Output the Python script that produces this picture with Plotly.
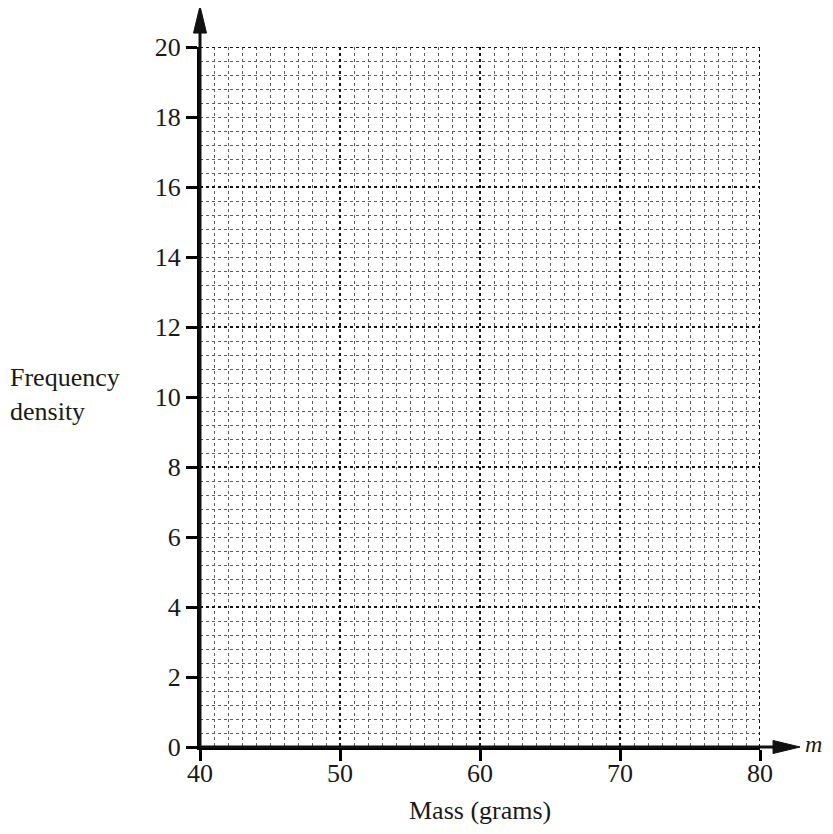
import plotly.graph_objects as go

# Axis settings
x_range = [40, 80]
y_range = [0, 20]
x_tick_vals = [40, 50, 60, 70, 80]
y_tick_vals = [0, 2, 4, 6, 8, 10, 12, 14, 16, 18, 20]
x_minor_step = 1
y_minor_step = 0.4
x_major_grid_step = 10
y_major_grid_step = 4
x_arrow_tip = 82.86   # x-axis arrow tip (data units)
y_arrow_tip = 21.17   # y-axis arrow tip (data units)
x_title = "Mass (grams)"
y_title = "Frequency<br>density"
x_var = "m"

FONT = "Liberation Serif, Times New Roman, serif"
TXT = "#1a1a1a"
MAJ = "#151515"
MIN = "#5e5e5e"

# plot area size in px
PW, PH = 560, 700


def xp(v):
    return (v - x_range[0]) / (x_range[1] - x_range[0])


def yp(v):
    return (v - y_range[0]) / (y_range[1] - y_range[0])


fig = go.Figure()
# invisible traces to anchor the axes
fig.add_trace(go.Scatter(x=x_range, y=y_range, mode="markers",
                         marker=dict(opacity=0), hoverinfo="skip", showlegend=False))
fig.add_trace(go.Scatter(x=x_range, y=y_range, mode="markers", yaxis="y2",
                         marker=dict(opacity=0), hoverinfo="skip", showlegend=False))

# page body has an 8px margin, so the figure is offset by 8px
fig.update_layout(
    width=817, height=818,
    margin=dict(l=192, r=65, t=39, b=79),
    paper_bgcolor="white", plot_bgcolor="white",
    font=dict(family=FONT, color=TXT, size=26),
    showlegend=False,
    xaxis=dict(
        range=x_range, tickvals=x_tick_vals, ticks="outside", ticklen=11, tickwidth=3,
        tickcolor="black", showline=True, linecolor="black", linewidth=3,
        zeroline=False, showgrid=True, gridcolor=MAJ, griddash="dot", gridwidth=2,
        tickfont=dict(family=FONT, size=26, color=TXT), ticklabelstandoff=-10,
        minor=dict(dtick=x_minor_step, tick0=40, showgrid=True, gridcolor=MIN,
                   griddash="dot", gridwidth=1, ticks=""),
        fixedrange=True,
    ),
    yaxis=dict(
        range=y_range, tickvals=y_tick_vals, ticks="outside", ticklen=11, tickwidth=3,
        tickcolor="black", showline=True, linecolor="black", linewidth=3,
        zeroline=False, showgrid=False,
        tickfont=dict(family=FONT, size=26, color=TXT),
        minor=dict(dtick=y_minor_step, tick0=0, showgrid=True, gridcolor=MIN,
                   griddash="dot", gridwidth=1, ticks=""),
        fixedrange=True,
    ),
    yaxis2=dict(
        range=y_range, overlaying="y", dtick=y_major_grid_step, tick0=0,
        showticklabels=False, ticks="", showgrid=True, gridcolor=MAJ,
        griddash="dot", gridwidth=2, zeroline=False, showline=False, fixedrange=True,
    ),
)

# dotted frame on top and right (the grid edge)
fig.add_shape(type="line", xref="x", yref="y", x0=x_range[0], x1=x_range[1],
              y0=y_range[1], y1=y_range[1], line=dict(color=MAJ, width=2, dash="dot"))
fig.add_shape(type="line", xref="x", yref="y", x0=x_range[1], x1=x_range[1],
              y0=y_range[0], y1=y_range[1], line=dict(color=MAJ, width=2, dash="dot"))

# axis arrows (lines + slender filled heads), in paper coordinates
HEAD_LEN, HEAD_HALF = 27, 6.5
xt = xp(x_arrow_tip)
xb = xt - HEAD_LEN / PW
fig.add_shape(type="line", xref="paper", yref="paper", x0=0, x1=xb + 2 / PW, y0=0, y1=0,
              line=dict(color="#111", width=3))
fig.add_shape(type="path", xref="paper", yref="paper",
              path=f"M {xt} 0 L {xb} {HEAD_HALF / PH} L {xb} {-HEAD_HALF / PH} Z",
              fillcolor="#111", line=dict(color="#111", width=1))
yt = yp(y_arrow_tip)
yb = yt - HEAD_LEN / PH
fig.add_shape(type="line", xref="paper", yref="paper", x0=0, x1=0, y0=0, y1=yb + 2 / PH,
              line=dict(color="#111", width=3))
fig.add_shape(type="path", xref="paper", yref="paper",
              path=f"M 0 {yt} L {HEAD_HALF / PW} {yb} L {-HEAD_HALF / PW} {yb} Z",
              fillcolor="#111", line=dict(color="#111", width=1))

# variable label
fig.add_annotation(x=xp(x_arrow_tip) + 3 / PW, y=yp(0.1), xref="paper", yref="paper",
                   text="<i>" + x_var + "</i>",
                   showarrow=False, xanchor="left", yanchor="middle",
                   font=dict(family=FONT, size=24, color=TXT))

# axis titles
fig.add_annotation(x=0.5, y=-0.09, xref="paper", yref="paper", text=x_title,
                   showarrow=False, xanchor="center", yanchor="middle",
                   font=dict(family=FONT, size=26, color=TXT))
fig.add_annotation(x=-0.343, y=0.503, xref="paper", yref="paper", text=y_title,
                   showarrow=False, xanchor="left", yanchor="middle", align="left",
                   font=dict(family=FONT, size=26, color=TXT))

fig.write_html("out.html")
